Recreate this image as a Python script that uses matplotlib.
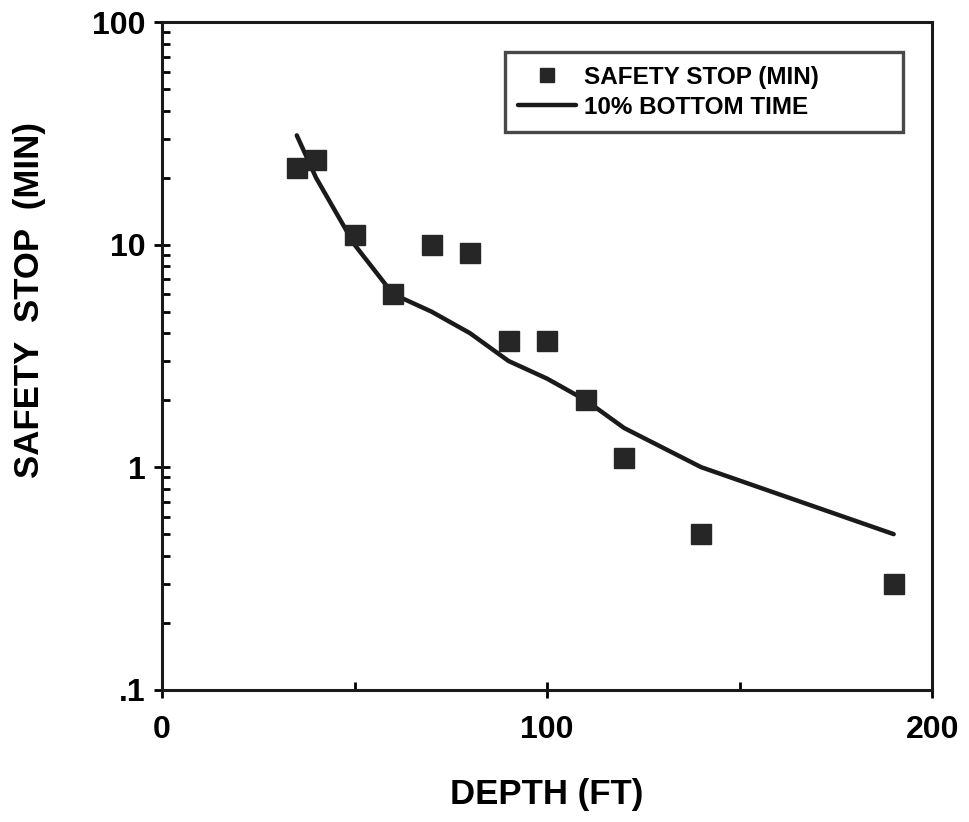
import matplotlib.pyplot as plt
from matplotlib.ticker import FixedLocator, FixedFormatter, LogLocator, NullFormatter

plt.rcParams['font.family'] = ['Liberation Sans', 'DejaVu Sans']
plt.rcParams['font.weight'] = 'bold'

# safety stop observations
stop_depth = [35, 40, 50, 60, 70, 80, 90, 100, 110, 120, 140, 190]
stop_min = [22, 24, 11, 6, 10, 9.2, 3.7, 3.7, 2.0, 1.1, 0.5, 0.3]

# 10% of no-decompression bottom time
bt_depth = [35, 40, 50, 60, 70, 80, 90, 100, 110, 120, 140, 190]
bt_min = [31, 20, 10, 6, 5, 4, 3, 2.5, 2, 1.5, 1.0, 0.5]

fig = plt.figure(figsize=(9.7, 8.22), dpi=100)
ax = fig.add_axes([0.167, 0.161, 0.794, 0.812])

ax.plot(bt_depth, bt_min, color='#1a1a1a', lw=3.2, label='10% BOTTOM TIME',
        solid_capstyle='round')
ax.plot(stop_depth, stop_min, 's', color='#262626', ms=15, ls='none',
        label='SAFETY STOP (MIN)')

ax.set_yscale('log')
ax.set_xlim(0, 200)
ax.set_ylim(0.1, 100)

ax.xaxis.set_major_locator(FixedLocator([0, 100, 200]))
ax.xaxis.set_minor_locator(FixedLocator([50, 150]))
ax.yaxis.set_major_locator(FixedLocator([0.1, 1, 10, 100]))
ax.yaxis.set_major_formatter(FixedFormatter(['.1', '1', '10', '100']))
ax.yaxis.set_minor_locator(LogLocator(base=10, subs=range(2, 10)))
ax.yaxis.set_minor_formatter(NullFormatter())

ax.tick_params(axis='both', which='major', direction='inout', length=12,
               width=2, labelsize=23, pad=12)
ax.tick_params(axis='both', which='minor', direction='in', length=6, width=2)
ax.tick_params(axis='y', which='major', pad=6)
for lab in ax.get_xticklabels() + ax.get_yticklabels():
    lab.set_fontweight('heavy')

for sp in ax.spines.values():
    sp.set_linewidth(2.2)
    sp.set_color('#1a1a1a')

ax.set_xlabel('DEPTH (FT)', fontsize=25, fontweight='bold', labelpad=24)
ax.set_ylabel('SAFETY  STOP  (MIN)', fontsize=25, fontweight='bold')
ax.yaxis.set_label_coords(-0.15, 0.584)

h, l = ax.get_legend_handles_labels()
leg = ax.legend(h[::-1], l[::-1], loc='upper left',
                bbox_to_anchor=(0.445, 0.816, 0.517, 0.139), mode='expand',
                fontsize=17.5, frameon=True, fancybox=False, markerscale=0.7,
                handlelength=2.4, handletextpad=0.3, borderpad=0.55,
                labelspacing=0.3, borderaxespad=0)
leg.get_frame().set_edgecolor('#1a1a1a')
leg.get_frame().set_linewidth(2.4)
for t in leg.get_texts():
    t.set_fontweight('bold')

fig.savefig('out.png', dpi=100)
